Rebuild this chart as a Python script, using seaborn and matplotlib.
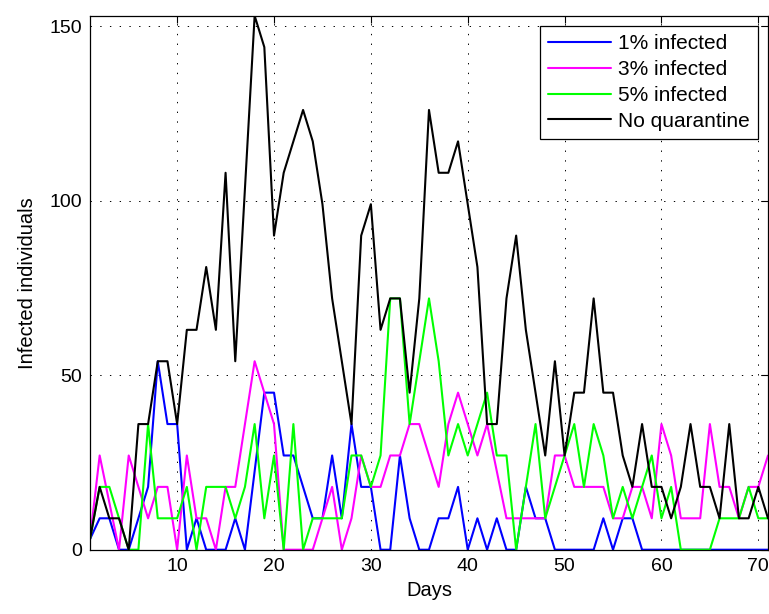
import matplotlib
matplotlib.use("Agg")
import matplotlib.pyplot as plt
import pandas as pd
import seaborn as sns

# days of the simulation
days = list(range(1, 72))

# infected individuals per day
one_pct = [3, 9, 9, 0, 0, 9, 18, 54, 36, 36,
           0, 9, 0, 0, 0, 9, 0, 22.5, 45, 45,
           27, 27, 18, 9, 9, 27, 9, 36, 18, 18,
           0, 0, 27, 9, 0, 0, 9, 9, 18, 0,
           9, 0, 9, 0, 0, 18, 9, 9, 0, 0,
           0, 0, 0, 9, 0, 9, 9, 0, 0, 0,
           0, 0, 0, 0, 0, 0, 0, 0, 0, 0, 0]
three_pct = [3, 27, 13.5, 0, 27, 18, 9, 18, 18, 0,
             27, 9, 9, 0, 18, 18, 36, 54, 45, 36,
             0, 0, 0, 0, 9, 18, 0, 9, 27, 18,
             18, 27, 27, 36, 36, 27, 18, 36, 45, 36,
             27, 36, 22.5, 9, 9, 9, 9, 9, 27, 27,
             18, 18, 18, 18, 9, 9, 18, 18, 9, 36,
             27, 9, 9, 9, 36, 18, 18, 9, 18, 18, 27]
five_pct = [3, 18, 18, 9, 0, 0, 36, 9, 9, 9,
            18, 0, 18, 18, 18, 9, 18, 36, 9, 27,
            0, 36, 0, 9, 9, 9, 9, 27, 27, 18,
            27, 72, 72, 36, 54, 72, 54, 27, 36, 27,
            36, 45, 27, 27, 0, 18, 36, 9, 18, 27,
            36, 18, 36, 27, 9, 18, 9, 18, 27, 9,
            18, 0, 0, 0, 0, 9, 9, 9, 18, 9, 9]
no_quarantine = [3, 18, 9, 9, 0, 36, 36, 54, 54, 36,
                 63, 63, 81, 63, 108, 54, 103.5, 153, 144, 90,
                 108, 117, 126, 117, 99, 72, 54, 36, 90, 99,
                 63, 72, 72, 45, 72, 126, 108, 108, 117, 99,
                 81, 36, 36, 72, 90, 63, 45, 27, 54, 27,
                 45, 45, 72, 45, 45, 27, 18, 36, 18, 18,
                 9, 18, 36, 18, 18, 9, 36, 9, 9, 18, 9]

series_names = ['1% infected', '3% infected', '5% infected', 'No quarantine']
colors = ['#0000ff', '#ff00ff', '#00ff00', '#000000']

frames = []
for name, vals in zip(series_names, [one_pct, three_pct, five_pct, no_quarantine]):
    frames.append(pd.DataFrame({'day': days, 'infected': vals, 'series': name}))
df = pd.concat(frames, ignore_index=True)

sns.set_style('white', rc={'axes.edgecolor': 'k', 'text.color': 'k',
                           'axes.labelcolor': 'k', 'xtick.color': 'k',
                           'ytick.color': 'k'})
plt.rcParams['font.family'] = ['Liberation Sans', 'DejaVu Sans']

fig = plt.figure(figsize=(7.69, 6.14), dpi=100)
ax = fig.add_axes([0.117, 0.1047, 0.8817, 0.8697])

sns.lineplot(data=df, x='day', y='infected', hue='series', hue_order=series_names,
             palette=colors, linewidth=1.5, ax=ax)

ax.set_xlim(1, 71)
ax.set_ylim(0, 153)
ax.set_xticks([10, 20, 30, 40, 50, 60, 70])
ax.set_yticks([0, 50, 100, 150])
ax.grid(True, linestyle=(0, (1.4, 8.6)), linewidth=0.7, color='k')
ax.tick_params(direction='in', top=True, right=True, length=5, width=0.8,
               labelsize=14, pad=6)
for s in ax.spines.values():
    s.set_linewidth(0.9)
    s.set_color('k')

ax.set_xlabel('Days', fontsize=14.5, labelpad=4)
ax.set_ylabel('Infected individuals', fontsize=14.5, labelpad=9)

leg = ax.legend(loc='upper right', title=None, frameon=True, fancybox=False,
                edgecolor='k', fontsize=15, handlelength=3.0, handletextpad=0.35,
                labelspacing=0.33, borderaxespad=0.5, borderpad=0.38)
leg.get_frame().set_linewidth(0.9)
leg.get_frame().set_alpha(1)

fig.savefig('out.png', dpi=100)
